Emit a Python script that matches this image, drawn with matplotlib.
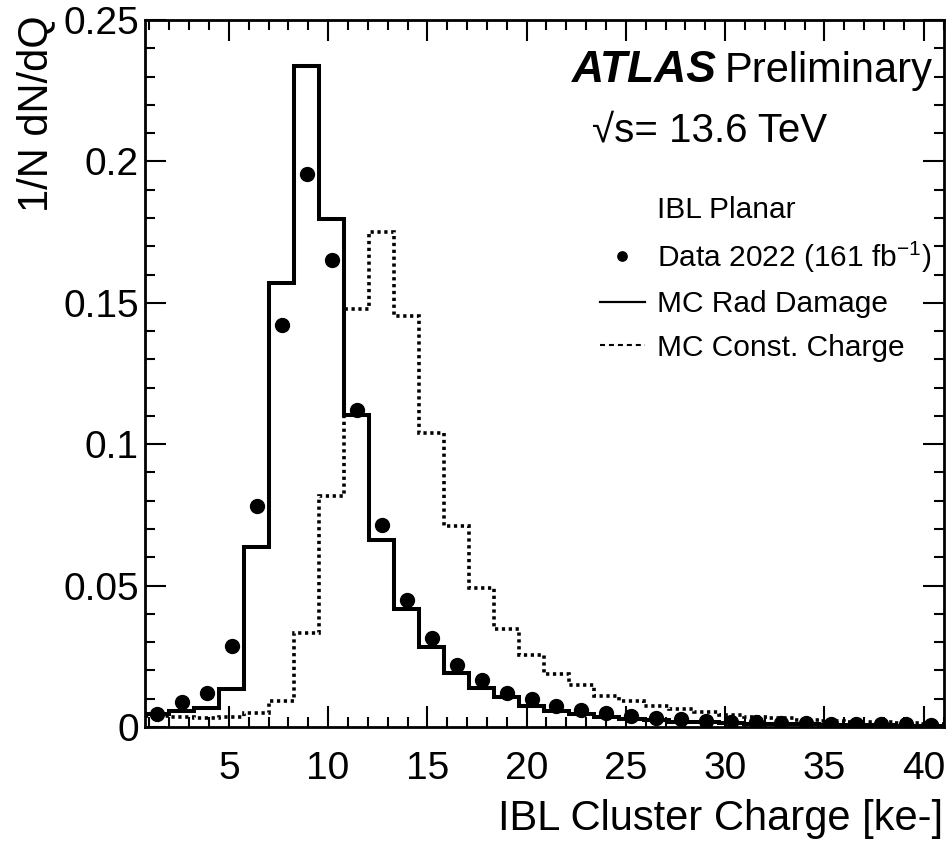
import numpy as np
import matplotlib
matplotlib.use("Agg")
import matplotlib.pyplot as plt
from matplotlib.lines import Line2D
from matplotlib.ticker import MultipleLocator, FixedLocator

plt.rcParams['font.family'] = ['Liberation Sans', 'DejaVu Sans']
plt.rcParams['mathtext.fontset'] = 'custom'
plt.rcParams['mathtext.rm'] = 'Liberation Sans'
plt.rcParams['mathtext.it'] = 'Liberation Sans:italic'
plt.rcParams['mathtext.bf'] = 'Liberation Sans:bold'

# Binning (ke-)
q_lo, q_hi, n_bins = 0.75, 41.0, 32

# Data 2022, normalised
data_2022 = [0.0045, 0.0090, 0.0120, 0.0285, 0.0780, 0.1420, 0.1955, 0.1650,
             0.1120, 0.0715, 0.0450, 0.0315, 0.0218, 0.0166, 0.0121, 0.0098,
             0.0075, 0.0060, 0.0049, 0.0039, 0.0032, 0.0027, 0.0022, 0.0019,
             0.0017, 0.0014, 0.0013, 0.0012, 0.0011, 0.0010, 0.0009, 0.0008]

# MC with radiation damage
mc_rad = [0.0045, 0.0055, 0.0066, 0.0133, 0.0637, 0.1570, 0.2338, 0.1795,
          0.1105, 0.0660, 0.0417, 0.0282, 0.0190, 0.0137, 0.0105, 0.0074,
          0.0058, 0.0046, 0.0037, 0.0030, 0.0024, 0.0019, 0.0016, 0.0014,
          0.0012, 0.0010, 0.0009, 0.0008, 0.0007, 0.0006, 0.0005, 0.0005]

# MC with constant charge
mc_const = [0.0039, 0.0037, 0.0033, 0.0036, 0.0048, 0.0092, 0.0333, 0.0818,
            0.1477, 0.1750, 0.1455, 0.1038, 0.0712, 0.0491, 0.0347, 0.0255,
            0.0187, 0.0148, 0.0111, 0.0092, 0.0074, 0.0065, 0.0053, 0.0042,
            0.0037, 0.0031, 0.0026, 0.0022, 0.0019, 0.0016, 0.0014, 0.0012]

x_ticks = [5, 10, 15, 20, 25, 30, 35, 40]
y_ticks = [0, 0.05, 0.1, 0.15, 0.2, 0.25]
y_tick_labels = ["0", "0.05", "0.1", "0.15", "0.2", "0.25"]

edges = np.linspace(q_lo, q_hi, n_bins + 1)
centers = 0.5 * (edges[:-1] + edges[1:])

W, H = 948, 849
fig = plt.figure(figsize=(W / 100, H / 100), dpi=100)
ax = fig.add_axes([144.5 / W, 1 - 727 / H, 799 / W, 707 / H])

ax.stairs(mc_rad, edges, baseline=None, color='k', lw=2.9)
ax.stairs(mc_const, edges, baseline=None, color='k', lw=2.6,
          linestyle=(0, (0.9, 1.0)))
ax.plot(centers, data_2022, 'o', color='k', ms=10)

ax.set_xlim(q_lo, q_hi)
ax.set_ylim(0, 0.25)

ax.xaxis.set_major_locator(FixedLocator(x_ticks))
ax.xaxis.set_minor_locator(MultipleLocator(1))
ax.yaxis.set_major_locator(FixedLocator(y_ticks))
ax.yaxis.set_minor_locator(MultipleLocator(0.01))
ax.set_xticklabels([str(t) for t in x_ticks], fontsize=28)
ax.set_yticklabels(y_tick_labels, fontsize=28)

ax.tick_params(which='both', direction='in', top=True, right=True, width=1.5)
ax.tick_params(which='major', length=15)
ax.tick_params(which='minor', length=7.5)
ax.tick_params(axis='x', which='major', pad=17)
ax.tick_params(axis='y', which='major', pad=4)
for s in ax.spines.values():
    s.set_linewidth(2)

ax.set_xlabel("IBL Cluster Charge [ke-]", loc='right', fontsize=30)
ax.xaxis.set_label_coords(1.0, -0.102)
ax.set_ylabel("1/N dN/dQ", loc='top', fontsize=30)
ax.yaxis.set_label_coords(-0.111, 1.007)

# ATLAS label
fig.text(572 / W, 1 - 82 / H, "ATLAS", fontsize=32, fontweight='bold',
         fontstyle='italic', va='baseline')
fig.text(725 / W, 1 - 82 / H, "Preliminary", fontsize=30, va='baseline')
fig.text(592 / W, 1 - 142 / H, "\u221as= 13.6 TeV", fontsize=29,
         va='baseline')

handles = [
    Line2D([], [], linestyle='none'),
    Line2D([], [], linestyle='none', marker='o', color='k', ms=6.7),
    Line2D([], [], color='k', lw=1.6),
    Line2D([], [], color='k', lw=1.5, dashes=(2.4, 1.9)),
]
labels = ["IBL Planar", r"Data 2022 (161 fb$^{\mathregular{-1}}$)",
          "MC Rad Damage", "MC Const. Charge"]
ax.legend(handles, labels, loc='upper left',
          bbox_to_anchor=(600 / W, 1 - 196 / H), bbox_transform=fig.transFigure,
          frameon=False, fontsize=21.5, borderpad=0, borderaxespad=0,
          handlelength=1.5, handletextpad=0.4, labelspacing=0.52)

fig.savefig("out.png", dpi=100)
